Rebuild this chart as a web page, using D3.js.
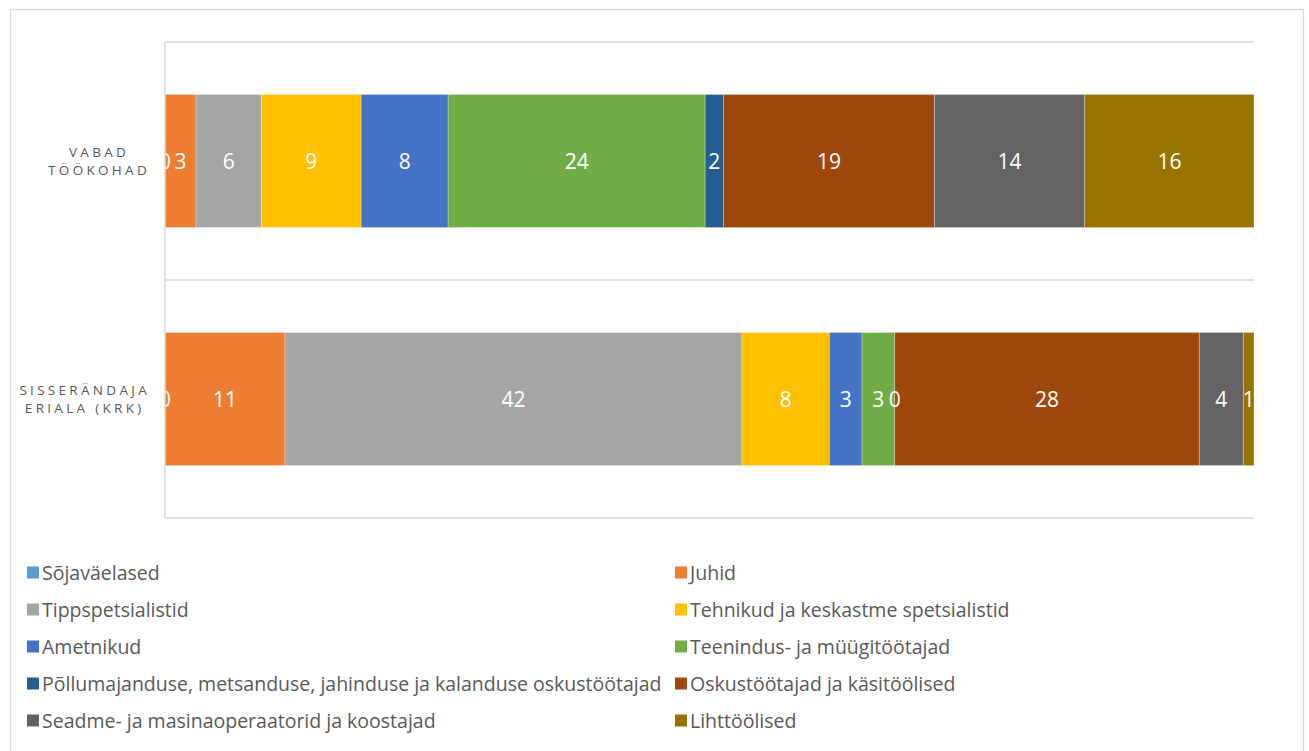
<!DOCTYPE html>
<html>
<head>
<meta charset="utf-8">
<script src="https://cdn.jsdelivr.net/npm/d3@7"></script>
<style>
  html, body { margin: 0; padding: 0; background: #fff; }
  svg { display: block; }
</style>
</head>
<body>
<svg id="chart" width="1309" height="751"></svg>
<script>
// ---- data ----
const categories = [["VABAD", "TÖÖKOHAD"], ["SISSERÄNDAJA", "ERIALA (KRK)"]];
const seriesNames = [
  "Sõjaväelased", "Juhid", "Tippspetsialistid", "Tehnikud ja keskastme spetsialistid",
  "Ametnikud", "Teenindus- ja müügitöötajad",
  "Põllumajanduse, metsanduse, jahinduse ja kalanduse oskustöötajad",
  "Oskustöötajad ja käsitöölised", "Seadme- ja masinaoperaatorid ja koostajad", "Lihttöölised"
];
// shares (%) per category, in series order
const vabadTookohad = [0, 2.85, 6.00, 9.16, 7.99, 23.60, 1.68, 19.38, 13.80, 15.54];
const sisserandajaEriala = [0, 11.02, 41.96, 8.02, 3.00, 3.00, 0, 27.97, 4.04, 0.98];
const seriesColors = ["#5B9BD5", "#ED7D31", "#A5A5A5", "#FFC000", "#4472C4", "#70AD47",
  "#255E91", "#9E480E", "#636363", "#997300"];

const rows = [vabadTookohad, sisserandajaEriala];

// ---- layout ----
const svg = d3.select("#chart");
const plot = { left: 165, right: 1254, top: 42, bottom: 518 };
const font = "'Open Sans', 'Noto Sans', sans-serif";

// outer chart border
svg.append("rect")
  .attr("x", 10.5).attr("y", 9.5).attr("width", 1293).attr("height", 760)
  .attr("fill", "#fff").attr("stroke", "#d9d9d9").attr("stroke-width", 1.3);

const x = d3.scaleLinear().domain([0, 1]).range([plot.left, plot.right]);
const y = d3.scaleBand().domain(d3.range(categories.length))
  .range([plot.top, plot.bottom]).paddingInner(0.441).paddingOuter(0.2205);

// category separator gridlines
const step = y.step();
const gridYs = d3.range(categories.length + 1).map(i => plot.top + i * step);
svg.append("g").selectAll("line").data(gridYs).join("line")
  .attr("x1", plot.left).attr("x2", plot.right)
  .attr("y1", d => d).attr("y2", d => d)
  .attr("stroke", "#d9d9d9").attr("stroke-width", 1.5);

// clip for bars & labels
svg.append("clipPath").attr("id", "plotclip").append("rect")
  .attr("x", plot.left).attr("y", plot.top)
  .attr("width", plot.right - plot.left).attr("height", plot.bottom - plot.top);

// build stacked segments
const segs = [];
rows.forEach((vals, ci) => {
  const total = d3.sum(vals);
  let acc = 0;
  vals.forEach((v, si) => {
    segs.push({ ci, si, v, x0: acc / total, x1: (acc + v) / total });
    acc += v;
  });
});

const barsG = svg.append("g").attr("clip-path", "url(#plotclip)");
barsG.selectAll("rect").data(segs.filter(d => d.v > 0)).join("rect")
  .attr("x", d => x(d.x0)).attr("width", d => x(d.x1) - x(d.x0))
  .attr("y", d => y(d.ci)).attr("height", y.bandwidth())
  .attr("fill", d => seriesColors[d.si])
  .attr("stroke", "rgba(255,255,255,0.35)").attr("stroke-width", 0.8);

barsG.selectAll("text").data(segs).join("text")
  .attr("x", d => (x(d.x0) + x(d.x1)) / 2)
  .attr("y", d => y(d.ci) + y.bandwidth() / 2)
  .attr("dy", "0.36em")
  .attr("text-anchor", "middle")
  .attr("fill", "#fff")
  .style("font-family", font).style("font-size", "21px")
  .text(d => d3.format(".0f")(d.v));

// left axis line
svg.append("line")
  .attr("x1", plot.left).attr("x2", plot.left)
  .attr("y1", plot.top).attr("y2", plot.bottom)
  .attr("stroke", "#d9d9d9").attr("stroke-width", 1.5);

// category labels
const catG = svg.append("g");
categories.forEach((lines, ci) => {
  const cy = y(ci) + y.bandwidth() / 2;
  const g = catG.append("g");
  const texts = g.selectAll("text").data(lines).join("text")
    .attr("y", (d, i) => cy + (i - (lines.length - 1) / 2) * 18)
    .attr("dy", "0.35em")
    .attr("text-anchor", "middle")
    .attr("fill", "#595959")
    .style("font-family", font).style("font-size", "13.5px")
    .style("letter-spacing", "3.3px")
    .text(d => d);
  const maxW = d3.max(texts.nodes(), n => n.getComputedTextLength());
  texts.attr("x", 150 - maxW / 2);
});

// legend
const legG = svg.append("g");
const legItems = legG.selectAll("g").data(seriesNames).join("g")
  .attr("transform", (d, i) => `translate(${i % 2 === 0 ? 27 : 675}, ${573 + Math.floor(i / 2) * 37})`);
legItems.append("rect")
  .attr("x", 0).attr("y", -6.5).attr("width", 12).attr("height", 12)
  .attr("fill", (d, i) => seriesColors[i]);
legItems.append("text")
  .attr("x", 15).attr("y", 0).attr("dy", "0.36em")
  .attr("fill", "#595959")
  .style("font-family", font).style("font-size", "19.5px")
  .text(d => d);
</script>
</body>
</html>
